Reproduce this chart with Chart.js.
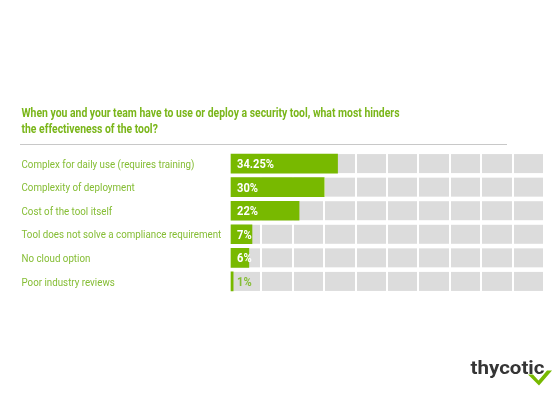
<!DOCTYPE html>
<html>
<head>
<meta charset="utf-8">
<script src="https://cdn.jsdelivr.net/npm/chart.js@4/dist/chart.umd.min.js"></script>
<style>
  html, body { margin: 0; padding: 0; background: #ffffff; }
  canvas { display: block; }
</style>
</head>
<body>
<canvas id="c" width="559" height="397"></canvas>
<script>
const titleLines = [
  'When you and your team have to use or deploy a security tool, what most hinders',
  'the effectiveness of the tool?'
];
const categories = [
  'Complex for daily use (requires training)',
  'Complexity of deployment',
  'Cost of the tool itself',
  'Tool does not solve a compliance requirement',
  'No cloud option',
  'Poor industry reviews'
];
const values = [34.25, 30, 22, 7, 6, 1];
const trackMax = 100;
const gridStep = 10;
const logoText = 'thycotic';

const GREEN_BAR = '#78b900';
const GREEN_TITLE = '#7ab61a';
const GREEN_LABEL = '#85bd34';
const TRACK = '#dcdcdc';
const BAR_H = 19;

function drawCondensed(ctx, text, x, y, font, color, sx, align) {
  ctx.save();
  ctx.font = font;
  ctx.fillStyle = color;
  ctx.textBaseline = 'alphabetic';
  ctx.textAlign = align || 'left';
  ctx.translate(x, y);
  ctx.scale(sx, 1);
  ctx.fillText(text, 0, 0);
  ctx.restore();
}
function fitScale(ctx, text, font, target) {
  ctx.save(); ctx.font = font;
  const w = ctx.measureText(text).width;
  ctx.restore();
  return target / w;
}

const decor = {
  id: 'decor',
  beforeDraw(chart) {
    const ctx = chart.ctx;
    const xs = chart.scales.x, ys = chart.scales.y;
    // tracks
    ctx.save();
    ctx.fillStyle = TRACK;
    const x0 = xs.getPixelForValue(0), x1 = xs.getPixelForValue(trackMax);
    categories.forEach((c, i) => {
      const yc = ys.getPixelForValue(i);
      ctx.fillRect(x0, yc - BAR_H / 2, x1 - x0, BAR_H);
    });
    ctx.restore();
    // title
    const tFont = 'bold 13px Roboto';
    const tS = fitScale(ctx, titleLines[0], tFont, 378);
    drawCondensed(ctx, titleLines[0], 21.5, 116.8, tFont, GREEN_TITLE, tS);
    drawCondensed(ctx, titleLines[1], 21.5, 132.6, tFont, GREEN_TITLE, tS);
    // separator
    ctx.save();
    ctx.strokeStyle = '#c8c8c8';
    ctx.lineWidth = 1;
    ctx.beginPath();
    ctx.moveTo(20, 144.5);
    ctx.lineTo(507, 144.5);
    ctx.stroke();
    ctx.restore();
    // logo
    const lFont = 'bold 19px Roboto';
    const lS = fitScale(ctx, logoText, lFont, 74);
    drawCondensed(ctx, logoText, 470.5, 373.5, lFont, '#353535', lS);
    ctx.save();
    ctx.fillStyle = '#77b900';
    ctx.beginPath();
    ctx.moveTo(528, 374.5);
    ctx.lineTo(533, 374.5);
    ctx.lineTo(538.5, 380.5);
    ctx.lineTo(547, 370.5);
    ctx.lineTo(552, 370.5);
    ctx.lineTo(539, 385.5);
    ctx.closePath();
    ctx.fill();
    ctx.restore();
  },
  afterDatasetsDraw(chart) {
    const ctx = chart.ctx;
    const xs = chart.scales.x, ys = chart.scales.y;
    const labFont = '11.5px Roboto';
    const labS = fitScale(ctx, categories[0], labFont, 173);
    const valFont = 'bold 12.5px Roboto';
    const valS = fitScale(ctx, values[0] + '%', valFont, 37);
    categories.forEach((c, i) => {
      const yc = ys.getPixelForValue(i);
      drawCondensed(ctx, c, 21.5, yc + 4.1, labFont, GREEN_LABEL, labS);
      const txt = values[i] + '%';
      const xStart = xs.getPixelForValue(0) + 7;
      const xEnd = xs.getPixelForValue(values[i]);
      const col = (xEnd > xStart + 4) ? '#ffffff' : GREEN_LABEL;
      drawCondensed(ctx, txt, xStart, yc + 4.5, valFont, col, valS);
    });
  }
};

new Chart(document.getElementById('c'), {
  type: 'bar',
  data: {
    labels: categories,
    datasets: [{
      data: values,
      backgroundColor: GREEN_BAR,
      borderWidth: 0,
      barThickness: BAR_H
    }]
  },
  options: {
    indexAxis: 'y',
    responsive: false,
    animation: false,
    devicePixelRatio: 1,
    layout: { padding: { left: 21, right: 15, top: 151.8, bottom: 103.8 } },
    plugins: { legend: { display: false }, tooltip: { enabled: false }, title: { display: false } },
    scales: {
      x: {
        min: 0, max: trackMax,
        ticks: { display: false, stepSize: gridStep },
        grid: { color: '#ffffff', lineWidth: 2, drawTicks: false, tickLength: 0 },
        border: { display: false }
      },
      y: {
        ticks: { display: false },
        grid: { display: false, drawTicks: false },
        border: { display: false },
        afterFit(scale) { scale.width = 209; }
      }
    }
  },
  plugins: [decor]
});
</script>
</body>
</html>
